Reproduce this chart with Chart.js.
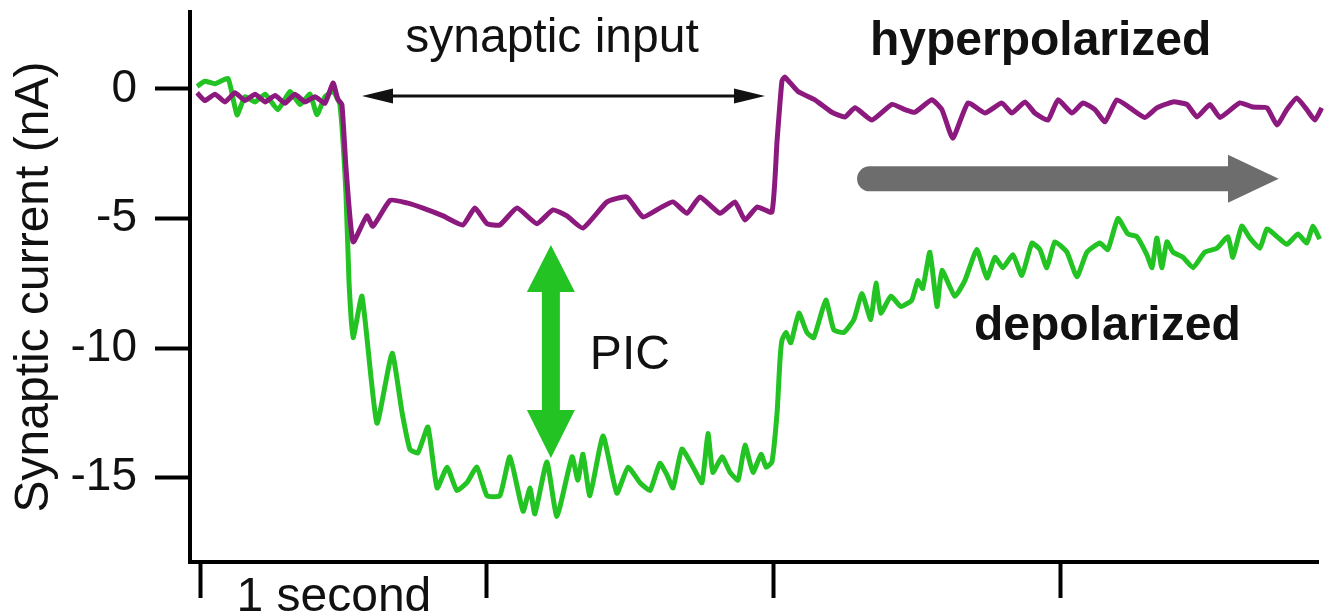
<!DOCTYPE html>
<html>
<head>
<meta charset="utf-8">
<title>Synaptic current</title>
<script src="https://cdn.jsdelivr.net/npm/chart.js@4.4.1/dist/chart.umd.min.js"></script>
<style>
  html, body { margin: 0; padding: 0; background: #fff; }
  #wrap { width: 1334px; height: 616px; }
</style>
</head>
<body>
<div id="wrap"><canvas id="myChart" width="1334" height="616"></canvas></div>
<script>
// time in seconds, current in nA
const hyperTime = [
  -0.010, 0.017, 0.052, 0.087, 0.122, 0.157, 0.192, 0.227, 0.262, 0.296,
  0.331, 0.366, 0.401, 0.436, 0.464, 0.481, 0.495, 0.509, 0.534, 0.582,
  0.603, 0.663, 0.722, 0.778, 0.848, 0.917, 0.959, 1.001, 1.046, 1.106,
  1.175, 1.231, 1.280, 1.336, 1.420, 1.489, 1.545, 1.604, 1.650, 1.699,
  1.744, 1.814, 1.866, 1.901, 1.943, 1.995, 2.013, 2.030, 2.040, 2.086,
  2.145, 2.204, 2.250, 2.285, 2.344, 2.414, 2.459, 2.494, 2.553, 2.588,
  2.626, 2.679, 2.738, 2.797, 2.832, 2.878, 2.912, 2.958, 2.993, 3.042,
  3.080, 3.122, 3.157, 3.198, 3.244, 3.296, 3.338, 3.394, 3.443, 3.478,
  3.523, 3.558, 3.627, 3.673, 3.722, 3.757, 3.791, 3.826, 3.861, 3.889,
  3.913,
];
const hyperCurrent = [
  -0.15, -0.45, -0.2, -0.5, -0.15, -0.45, -0.2, -0.5, -0.25, -0.55,
  -0.2, -0.5, -0.3, -0.55, 0.23, -0.4, -0.6, -3.0, -5.9, -4.9,
  -5.3, -4.3, -4.4, -4.6, -4.9, -5.25, -4.6, -5.2, -5.25, -4.6,
  -5.2, -4.67, -4.9, -5.37, -4.36, -4.17, -4.94, -4.6, -4.36, -4.8,
  -4.17, -4.8, -4.36, -5.06, -4.56, -4.75, -2.0, 0.3, 0.46, -0.1,
  -0.42, -0.9, -1.08, -0.73, -1.2, -0.6, -0.8, -0.9, -0.42, -0.8,
  -1.9, -0.54, -0.93, -0.54, -0.93, -0.5, -0.93, -1.2, -0.42, -0.93,
  -0.54, -0.8, -1.27, -0.42, -0.73, -1.1, -0.73, -0.5, -0.6, -1.08,
  -0.6, -1.1, -0.54, -0.7, -0.73, -1.39, -0.8, -0.35, -0.8, -1.2,
  -0.73,
];

const depolTime = [
  -0.010, 0.017, 0.052, 0.098, 0.129, 0.157, 0.192, 0.227, 0.272, 0.314,
  0.349, 0.384, 0.408, 0.436, 0.464, 0.488, 0.509, 0.520, 0.534, 0.565,
  0.617, 0.670, 0.705, 0.732, 0.760, 0.795, 0.827, 0.862, 0.896, 0.931,
  0.966, 1.001, 1.046, 1.081, 1.127, 1.151, 1.168, 1.210, 1.245, 1.298,
  1.318, 1.336, 1.360, 1.406, 1.454, 1.493, 1.535, 1.570, 1.604, 1.629,
  1.650, 1.681, 1.720, 1.751, 1.772, 1.789, 1.821, 1.849, 1.877, 1.901,
  1.929, 1.957, 1.975, 1.995, 2.013, 2.023, 2.030, 2.044, 2.061, 2.089,
  2.117, 2.141, 2.183, 2.211, 2.246, 2.281, 2.309, 2.340, 2.358, 2.375,
  2.410, 2.445, 2.483, 2.504, 2.521, 2.546, 2.571, 2.588, 2.633, 2.668,
  2.710, 2.745, 2.773, 2.801, 2.836, 2.867, 2.902, 2.930, 2.954, 2.982,
  3.024, 3.059, 3.094, 3.139, 3.167, 3.202, 3.237, 3.268, 3.303, 3.321,
  3.338, 3.355, 3.373, 3.394, 3.429, 3.464, 3.505, 3.547, 3.586, 3.603,
  3.634, 3.662, 3.697, 3.722, 3.757, 3.791, 3.830, 3.861, 3.882, 3.906,
];
const depolCurrent = [
  0.1, 0.3, 0.2, 0.4, -1.0, -0.3, -0.5, -0.2, -0.8, -0.1,
  -0.6, -0.2, -1.0, -0.3, -0.1, -0.6, -4.0, -7.5, -9.6, -8.0,
  -12.9, -10.2, -12.5, -13.9, -14.05, -13.05, -15.4, -14.6, -15.5, -15.2,
  -14.6, -15.7, -15.7, -14.2, -16.3, -15.4, -16.4, -14.4, -16.5, -14.2,
  -15.1, -14.1, -15.7, -13.4, -15.6, -14.6, -15.2, -15.5, -14.45, -14.9,
  -15.4, -13.9, -14.6, -15.2, -13.3, -14.8, -14.2, -14.8, -15.1, -13.75,
  -14.8, -14.1, -14.6, -14.4, -12.5, -10.5, -9.7, -9.4, -9.8, -8.65,
  -9.4, -9.6, -8.15, -9.3, -9.4, -8.9, -7.9, -8.9, -7.5, -8.65,
  -8.0, -8.4, -8.15, -7.4, -7.7, -6.3, -8.4, -7.0, -8.0, -7.4,
  -6.2, -7.3, -6.5, -6.9, -6.4, -7.2, -5.95, -6.2, -6.9, -5.9,
  -6.3, -7.25, -6.3, -5.95, -6.2, -5.0, -5.6, -5.7, -6.4, -6.9,
  -5.75, -6.9, -5.9, -6.3, -6.5, -6.9, -6.3, -6.15, -5.7, -6.5,
  -5.3, -5.75, -6.15, -5.4, -5.7, -6.0, -5.6, -5.95, -5.3, -5.8,
];

const yTicks = [0, -5, -10, -15];
const xTicks = [0, 1, 2, 3];
const yTitle = "Synaptic current (nA)";
const timeLabel = "1 second";

const magenta = "#8c1a7e";
const green = "#22c322";
const fontFamily = "'Liberation Sans', Arial, sans-serif";

const toPoints = (times, values) =>
  times.map((t, i) => ({ x: t, y: values[i] }));

const arrowHead = (c, tipX, tipY, dir, len, half) => {
  c.beginPath();
  c.moveTo(tipX, tipY);
  c.lineTo(tipX + dir * len, tipY - half);
  c.lineTo(tipX + dir * len, tipY + half);
  c.closePath();
  c.fill();
};

const annotations = {
  id: "annotations",
  afterDatasetsDraw(chart) {
    const c = chart.ctx;
    const px = (t) => chart.scales.x.getPixelForValue(t);
    const py = (v) => chart.scales.y.getPixelForValue(v);
    c.save();

    // synaptic input double arrow
    const ax1 = px(0.565);
    const ax2 = px(1.971);
    const ay = py(-0.27);
    c.strokeStyle = "#111";
    c.fillStyle = "#111";
    c.lineWidth = 3;
    c.beginPath();
    c.moveTo(ax1 + 20, ay);
    c.lineTo(ax2 - 20, ay);
    c.stroke();
    arrowHead(c, ax1, ay, 1, 31, 7.5);
    arrowHead(c, ax2, ay, -1, 31, 7.5);

    // grey time arrow
    const gx0 = px(2.292);
    const gBase = px(3.586);
    const gTip = px(3.763);
    const gy = py(-3.47);
    const r = 12.5;
    c.fillStyle = "#6d6d6d";
    c.beginPath();
    c.moveTo(gBase, gy + r);
    c.lineTo(gx0 + r, gy + r);
    c.arc(gx0 + r, gy, r, Math.PI / 2, Math.PI * 1.5);
    c.lineTo(gBase, gy - r);
    c.lineTo(gBase, gy - 24);
    c.lineTo(gTip, gy);
    c.lineTo(gBase, gy + 24);
    c.closePath();
    c.fill();

    // PIC double arrow
    const cx = px(1.224);
    const tTop = py(-6.02);
    const hTop = py(-7.84);
    const hBot = py(-12.39);
    const tBot = py(-14.25);
    c.fillStyle = green;
    c.beginPath();
    c.moveTo(cx, tTop);
    c.lineTo(cx + 24, hTop);
    c.lineTo(cx + 9, hTop);
    c.lineTo(cx + 9, hBot);
    c.lineTo(cx + 24, hBot);
    c.lineTo(cx, tBot);
    c.lineTo(cx - 24, hBot);
    c.lineTo(cx - 9, hBot);
    c.lineTo(cx - 9, hTop);
    c.lineTo(cx - 24, hTop);
    c.closePath();
    c.fill();

    // labels
    c.fillStyle = "#111";
    c.textBaseline = "alphabetic";
    c.font = "48px " + fontFamily;
    c.textAlign = "center";
    c.fillText("synaptic input", px(1.228), py(1.43));
    c.fillText(timeLabel, px(0.467), chart.scales.x.top + 49);
    c.textAlign = "left";
    c.fillText("PIC", px(1.36), py(-10.81));
    c.font = "bold 48px " + fontFamily;
    c.fillText("hyperpolarized", px(2.337), py(1.31));
    c.fillText("depolarized", px(2.7), py(-9.69));

    c.restore();
  },
};

const ctx = document.getElementById("myChart");

const myChart = new Chart(ctx, {
  type: "line",

  data: {
    datasets: [
      {
        label: "hyperpolarized",
        data: toPoints(hyperTime, hyperCurrent),
        borderColor: magenta,
        borderWidth: 5,
        pointRadius: 0,
        tension: 0.15,
        clip: 6,
      },
      {
        label: "depolarized",
        data: toPoints(depolTime, depolCurrent),
        borderColor: green,
        borderWidth: 5,
        pointRadius: 0,
        tension: 0.15,
        clip: 6,
      },
    ],
  },

  options: {
    responsive: false,
    animation: false,
    layout: {
      padding: { top: 12, right: 16, left: 0, bottom: 0 },
    },

    plugins: {
      legend: { display: false },
      tooltip: { enabled: false },
    },

    scales: {
      x: {
        type: "linear",
        min: -0.0349,
        max: 3.9,
        afterBuildTicks: (scale) => {
          scale.ticks = xTicks.map((v) => ({ value: v }));
        },
        afterFit: (scale) => {
          scale.height = 54;
          scale.paddingLeft = 0;
          scale.paddingRight = 0;
        },
        border: { display: true, color: "#000", width: 4 },
        grid: {
          drawOnChartArea: false,
          drawTicks: true,
          tickLength: 36,
          tickWidth: 4,
          tickColor: "#000",
        },
        ticks: { display: false },
      },

      y: {
        type: "linear",
        min: -18.26,
        max: 2.97,
        afterBuildTicks: (scale) => {
          scale.ticks = yTicks.map((v) => ({ value: v }));
        },
        afterFit: (scale) => {
          scale.width = 190;
          scale.paddingTop = 0;
          scale.paddingBottom = 0;
        },
        border: { display: true, color: "#000", width: 4 },
        grid: {
          drawOnChartArea: false,
          drawTicks: true,
          tickLength: 35,
          tickWidth: 4,
          tickColor: "#000",
        },
        ticks: {
          padding: 18,
          color: "#111",
          font: { family: fontFamily, size: 46 },
          callback: (value) => String(value),
        },
        title: {
          display: true,
          text: yTitle,
          color: "#111",
          font: { family: fontFamily, size: 48 },
          padding: { top: 6, bottom: 0 },
        },
      },
    },
  },

  plugins: [annotations],
});
</script>
</body>
</html>
